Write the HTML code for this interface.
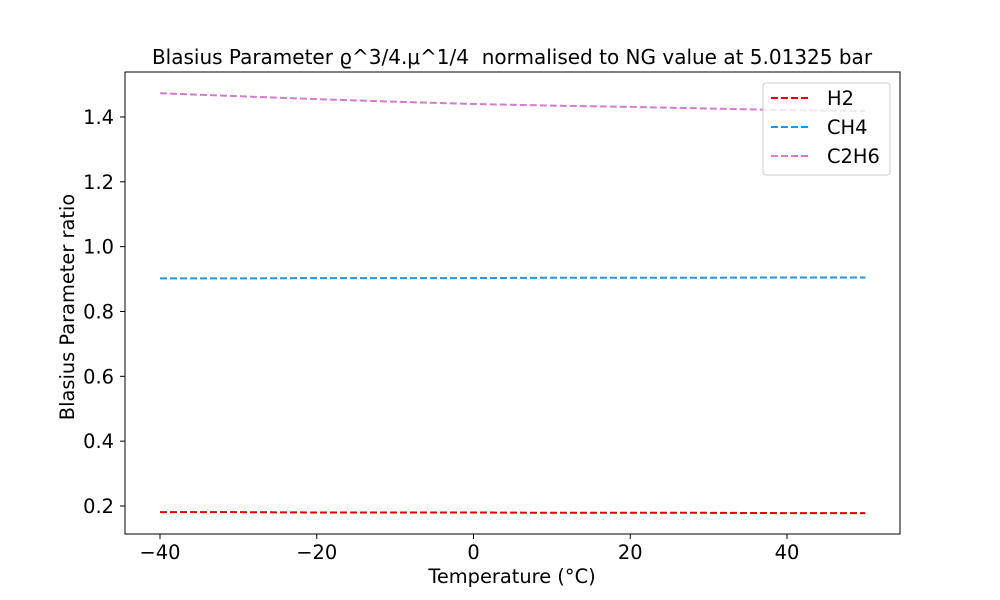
<!DOCTYPE html>
<html><head><meta charset="utf-8"><style>
body{margin:0;background:#fff;}
svg{display:block;font-family:"DejaVu Sans","Liberation Sans",sans-serif;}
</style></head><body>
<svg id="chart" width="1000" height="600" viewBox="0 0 1000 600" xmlns="http://www.w3.org/2000/svg">
<rect width="1000" height="600" fill="#fff"/>
<text x="512" y="64" font-size="20" text-anchor="middle" xml:space="preserve">Blasius Parameter ϱ^3/4.μ^1/4  normalised to NG value at 5.01325 bar</text>
<g id="series"></g>
<rect x="125" y="72" width="775" height="462" fill="none" stroke="#000" stroke-width="1"/>
<g id="xticks"></g><g id="yticks"></g>
<text x="512" y="583" font-size="19.4" text-anchor="middle">Temperature (°C)</text>
<text x="74" y="307" font-size="19.4" text-anchor="middle" transform="rotate(-90 74 307)">Blasius Parameter ratio</text>
<g id="legend"></g>
</svg>
<script>
const temps=[-40,-30,-20,-10,0,10,20,30,40,50];
const h2=[0.181,0.181,0.180,0.180,0.180,0.179,0.179,0.179,0.178,0.178];
const ch4=[0.902,0.902,0.903,0.903,0.903,0.904,0.904,0.904,0.905,0.905];
const c2h6=[1.473,1.464,1.455,1.447,1.440,1.435,1.431,1.426,1.421,1.418];
const seriesNames=["H2","CH4","C2H6"];
const seriesColors=["#e00000","#1f96e6","#d17dcc"];
const xTicks=[-40,-20,0,20,40];
const yTicks=[0.2,0.4,0.6,0.8,1.0,1.2,1.4];
const NS="http://www.w3.org/2000/svg";
const X=v=>160+(v+40)*7.8375;
const Y=v=>506-(v-0.2)*324.2;
function mk(t,a,p){const e=document.createElementNS(NS,t);for(const k in a)e.setAttribute(k,a[k]);p.appendChild(e);return e;}
const sg=document.getElementById('series');
[h2,ch4,c2h6].forEach((s,i)=>{
 const p=mk('polyline',{points:s.map((v,j)=>X(temps[j])+','+Y(v)).join(' '),fill:'none',stroke:seriesColors[i],'stroke-width':2,'stroke-dasharray':'7,3'},sg);
 
 
});
const xg=document.getElementById('xticks');
xTicks.forEach(t=>{
 const l=mk('line',{x1:X(t),x2:X(t),y1:534,y2:539,stroke:'#000'},xg);
 
 
 const tx=mk('text',{x:X(t),y:559,'font-size':19.4,'text-anchor':'middle'},xg);
 tx.textContent=(t<0?'−':'')+Math.abs(t);
 
 
});
const yg=document.getElementById('yticks');
yTicks.forEach(t=>{
 const l=mk('line',{x1:120,x2:125,y1:Y(t),y2:Y(t),stroke:'#000'},yg);
 
 
 const tx=mk('text',{x:114,y:Y(t)+7,'font-size':19.4,'text-anchor':'end'},yg);
 tx.textContent=t.toFixed(1);
 
 
});
const lg=document.getElementById('legend');
const box=mk('rect',{x:763,y:83,width:127,height:92,rx:3,fill:'#fff','fill-opacity':0.8,stroke:'#ccc'},lg);


seriesNames.forEach((n,i)=>{
 const y=98+i*29;
 const l=mk('line',{x1:771,x2:811,y1:y,y2:y,stroke:seriesColors[i],'stroke-width':2,'stroke-dasharray':'7,3'},lg);
 
 
 const tx=mk('text',{x:827,y:y+7,'font-size':19.4},lg);
 tx.textContent=n;
 
 
});
</script>
</body></html>
